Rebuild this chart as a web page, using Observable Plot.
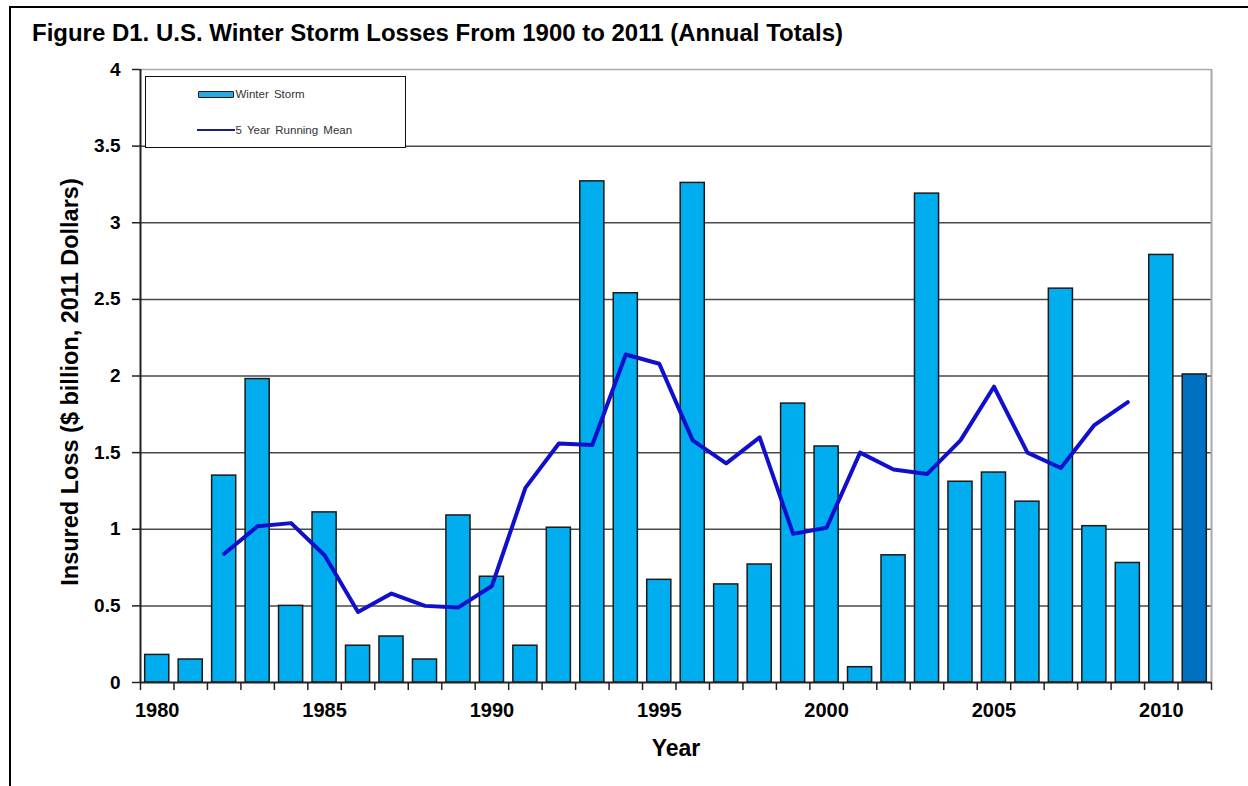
<!DOCTYPE html>
<html>
<head>
<meta charset="utf-8">
<script src="https://cdn.jsdelivr.net/npm/d3@7"></script>
<script src="https://cdn.jsdelivr.net/npm/@observablehq/plot@0.6"></script>
<style>
html, body { margin: 0; padding: 0; background: #fff; }
#page { position: relative; width: 1248px; height: 786px; overflow: hidden; font-family: "Liberation Sans", Arial, sans-serif; }
#header { position: relative; height: 60px; }
#title { position: absolute; left: 32px; top: 22px; font-size: 23px; line-height: 23px; font-weight: bold; white-space: nowrap; transform-origin: 0 0; color: #000; }
#chart svg text { font-weight: bold; }
#frame { position: absolute; left: 9px; top: 6px; right: -10px; bottom: -10px; border-top: 2.5px solid #000; border-left: 2.5px solid #000; pointer-events: none; }
#legend { position: absolute; left: 145px; top: 76px; width: 261px; height: 72px; border: 1.5px solid #111; background: #fff; box-sizing: border-box; font-size: 11.5px; color: #333; }
#legend .sw-bar { position: absolute; left: 51.5px; top: 13.5px; width: 34px; height: 5px; background: #29abe2; border: 1px solid #1a1a2a; border-radius: 1px; }
#legend .sw-line { position: absolute; left: 50.5px; top: 51.5px; width: 38px; height: 2.5px; background: #1c1c8a; }
#legend .lab { position: absolute; left: 89.5px; line-height: 12px; white-space: nowrap; word-spacing: 2px; }
</style>
</head>
<body>
<div id="page">
  <div id="header"><span id="title"></span></div>
  <div id="chart"></div>
  <div id="legend"></div>
  <div id="frame"></div>
</div>
<script>
// ---- data ----
const titleText = "Figure D1. U.S. Winter Storm Losses From 1900 to 2011 (Annual Totals)";
const xTitle = "Year";
const yTitle = "Insured Loss ($ billion, 2011 Dollars)";
const seriesNames = ["Winter Storm", "5 Year Running Mean"];

const years = [1980, 1981, 1982, 1983, 1984, 1985, 1986, 1987, 1988, 1989,
               1990, 1991, 1992, 1993, 1994, 1995, 1996, 1997, 1998, 1999,
               2000, 2001, 2002, 2003, 2004, 2005, 2006, 2007, 2008, 2009,
               2010, 2011];
const losses = [0.18, 0.15, 1.35, 1.98, 0.50, 1.11, 0.24, 0.30, 0.15, 1.09,
                0.69, 0.24, 1.01, 3.27, 2.54, 0.67, 3.26, 0.64, 0.77, 1.82,
                1.54, 0.10, 0.83, 3.19, 1.31, 1.37, 1.18, 2.57, 1.02, 0.78,
                2.79, 2.01];

const meanYears = [1982, 1983, 1984, 1985, 1986, 1987, 1988, 1989, 1990, 1991,
                   1992, 1993, 1994, 1995, 1996, 1997, 1998, 1999, 2000, 2001,
                   2002, 2003, 2004, 2005, 2006, 2007, 2008, 2009];
const runningMean = [0.84, 1.02, 1.04, 0.83, 0.46, 0.58, 0.50, 0.49, 0.63, 1.27,
                     1.56, 1.55, 2.14, 2.08, 1.58, 1.43, 1.60, 0.97, 1.01, 1.50,
                     1.39, 1.36, 1.58, 1.93, 1.50, 1.40, 1.68, 1.83];

const yTicks = [0, 0.5, 1, 1.5, 2, 2.5, 3, 3.5, 4];
const xLabelYears = [1980, 1985, 1990, 1995, 2000, 2005, 2010];

// ---- build tables ----
const bars = years.map((year, i) => ({year, loss: losses[i]}));
const mean = meanYears.map((year, i) => ({year, value: runningMean[i]}));
const bounds = [years[0] - 0.5, ...years.map(y => y + 0.5)];
const lastYear = years[years.length - 1];
const half = 0.36;

const LIGHT = "#00aeef", DARK = "#0070c0", LINE = "#1010cc";

const chart = Plot.plot({
  width: 1248,
  height: 726,
  marginTop: 9,
  marginBottom: 104,
  marginLeft: 140,
  marginRight: 37,
  x: {type: "linear", domain: [bounds[0], bounds[bounds.length - 1]]},
  y: {domain: [0, 4]},
  style: {fontFamily: "Liberation Sans, Arial, sans-serif", color: "#000", background: "transparent", overflow: "visible"},
  marks: [
    Plot.ruleY(yTicks.filter(v => v > 0 && v < 4), {stroke: "#4a4a4a", strokeWidth: 1.5}),
    Plot.ruleY([4], {stroke: "#a8a8a8", strokeWidth: 1.5}),
    Plot.ruleX([bounds[bounds.length - 1]], {y1: 0, y2: 4, stroke: "#a8a8a8", strokeWidth: 2}),
    Plot.rect(bars, {
      x1: d => d.year - half, x2: d => d.year + half, y1: 0, y2: "loss",
      fill: d => d.year === lastYear ? DARK : LIGHT,
      stroke: "#1a1a1a", strokeWidth: 1.5
    }),
    Plot.line(mean, {x: "year", y: "value", stroke: LINE, strokeWidth: 4, strokeLinejoin: "round", strokeLinecap: "round"}),
    Plot.ruleX([bounds[0]], {y1: 0, y2: 4, stroke: "#222", strokeWidth: 2}),
    Plot.ruleY([0], {stroke: "#222", strokeWidth: 2}),
    Plot.axisY({ticks: yTicks, tickSize: 8, tickPadding: 12, tickFormat: d => String(d), fontSize: 19, label: null, stroke: "#222", strokeWidth: 1.5}),
    Plot.axisX({ticks: bounds, tickSize: 8, tickFormat: () => "", label: null, stroke: "#222", strokeWidth: 1.5}),
    Plot.axisX({ticks: xLabelYears, tickSize: 0, tickPadding: 20, tickFormat: d => String(d), fontSize: 20, label: null}),
    Plot.text([xTitle], {text: d => d, frameAnchor: "bottom", dy: 73, fontSize: 23, fontWeight: "bold"}),
    Plot.text([yTitle], {text: d => d, frameAnchor: "left", textAnchor: "middle", rotate: -90, dx: -70, dy: 6, fontSize: 23.5, fontWeight: "bold"})
  ]
});
document.getElementById("chart").appendChild(chart);

// title, fitted to the reference width
const t = document.getElementById("title");
t.textContent = titleText;
const w = t.getBoundingClientRect().width;
t.style.transform = `scaleX(${811 / w})`;

// legend
const lg = document.getElementById("legend");
lg.innerHTML = `
  <div class="sw-bar"></div><div class="lab" style="top:11px">${seriesNames[0]}</div>
  <div class="sw-line"></div><div class="lab" style="top:46.5px">${seriesNames[1]}</div>`;
</script>
</body>
</html>
